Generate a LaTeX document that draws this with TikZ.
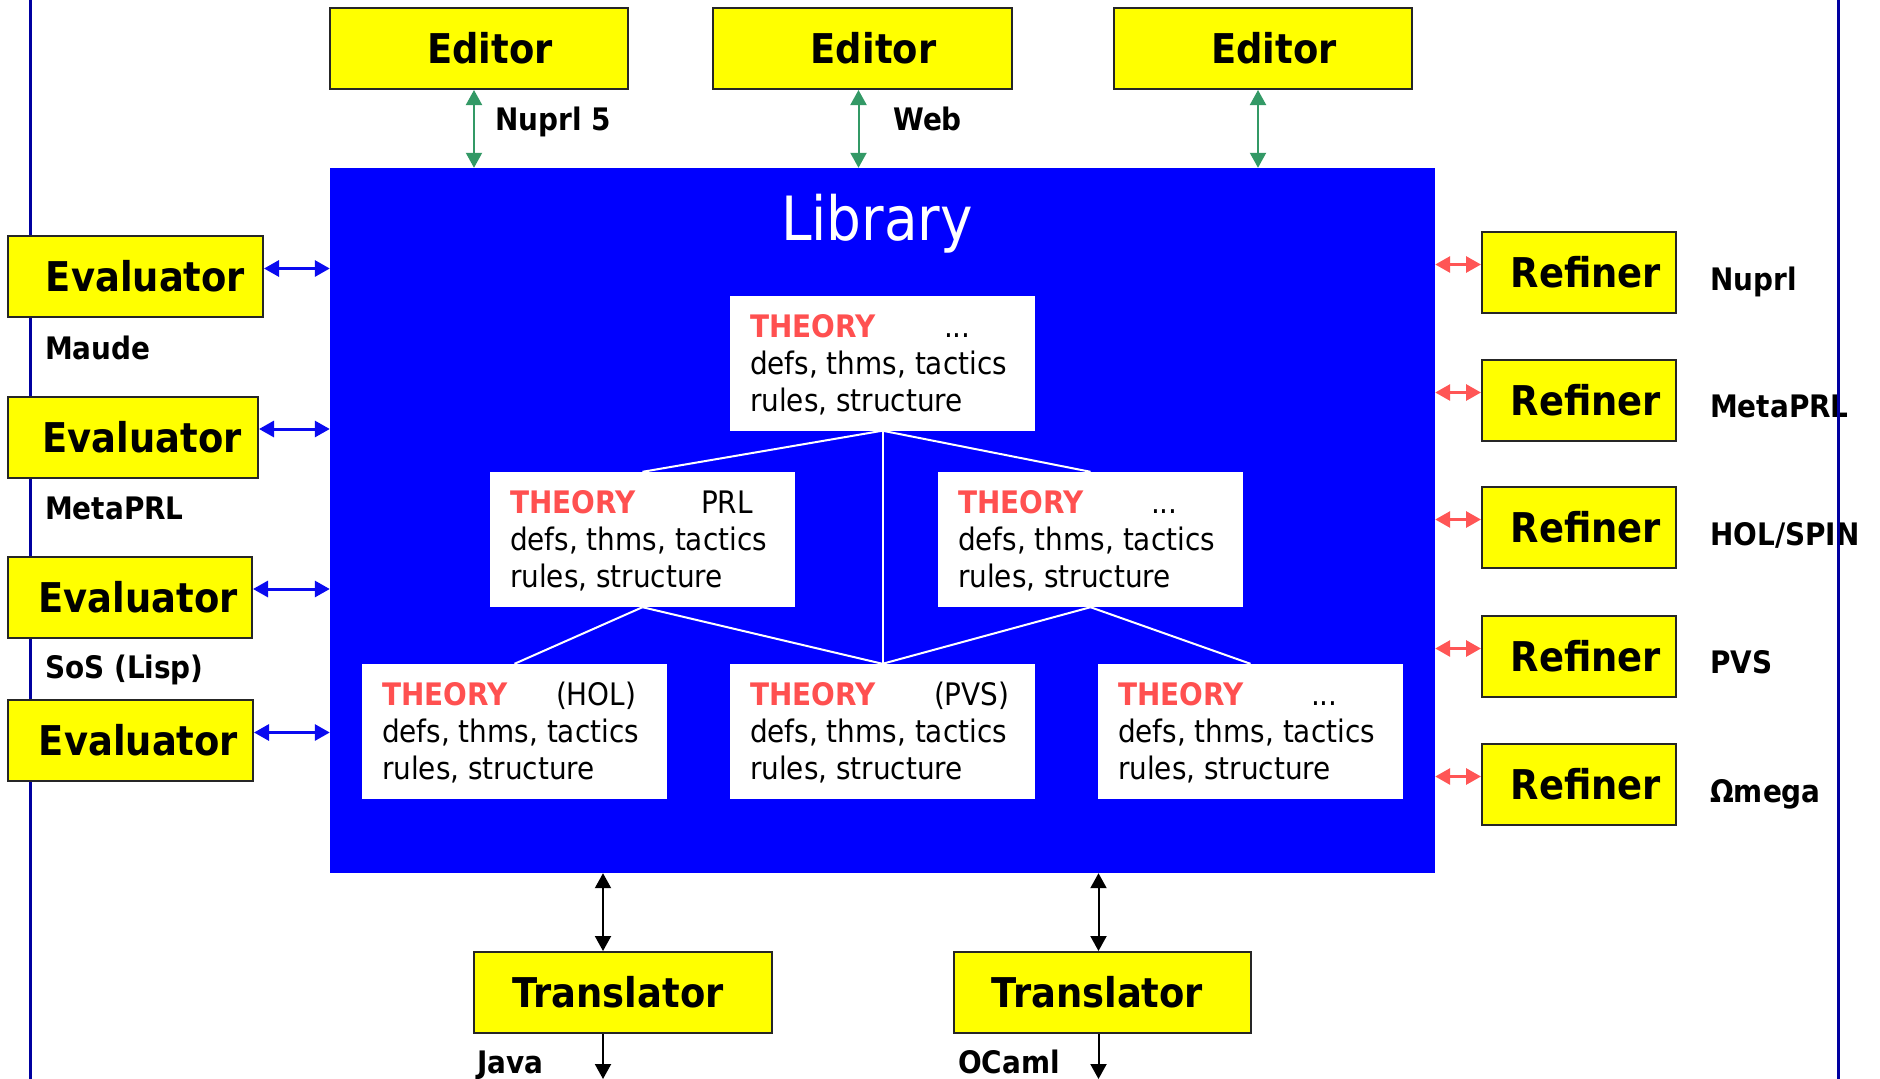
\documentclass[tikz,border=0pt]{standalone}
\usepackage{fontspec}
\setmainfont{DejaVu Sans}[FakeStretch=0.9]
\usetikzlibrary{arrows.meta}
\definecolor{yfill}{HTML}{FFFF00}
\definecolor{libblue}{HTML}{0000FF}
\definecolor{edgeblue}{HTML}{0000A0}
\definecolor{thred}{HTML}{FF5050}
\definecolor{agreen}{HTML}{339966}
\definecolor{ared}{HTML}{FF5555}
\definecolor{ablue}{HTML}{0A0AF0}
\newcommand{\thfont}{\fontsize{31}{36}\selectfont}
\newcommand{\mytheory}[4]{%
  \node[theorybox] (#1) at (#2) {};
  \node[thtext, anchor=base west, text=thred, font=\thfont\bfseries] (#1-h) at ([shift={(20,42)}]#1.north west) {THEORY};
  \node[thtext, anchor=base west] (#1-t) at ([shift={(#4,42)}]#1.north west) {#3};
  \node[thtext, anchor=base west] (#1-a) at ([shift={(20,79)}]#1.north west) {defs, thms, tactics};
  \node[thtext, anchor=base west] (#1-b) at ([shift={(20,116)}]#1.north west) {rules, structure};
}
\begin{document}
\begin{tikzpicture}[x=1pt,y=-1pt,
  yellowbox/.style={draw=black!85, line width=2pt, fill=yfill, inner sep=0pt, minimum height=81pt,
    font=\fontsize{41}{45}\selectfont\bfseries},
  theorybox/.style={fill=white, draw=none, inner sep=0pt, minimum width=305pt, minimum height=135pt},
  thtext/.style={inner sep=0pt, font=\thfont},
  sidelabel/.style={inner sep=0pt, anchor=base west, font=\fontsize{31}{36}\selectfont\bfseries},
  dblarrow/.style={{Triangle[length=15pt,width=16pt]}-{Triangle[length=15pt,width=16pt]}},
  garrow/.style={dblarrow, draw=agreen, fill=agreen, line width=2pt},
  barrow/.style={dblarrow, draw=ablue, fill=ablue, line width=3pt},
  rarrow/.style={dblarrow, draw=ared, fill=ared, line width=3pt},
  karrow/.style={dblarrow, draw=black, fill=black, line width=2pt},
  kone/.style={-{Triangle[length=15pt,width=16pt]}, draw=black, line width=2pt},
  treeline/.style={draw=white, line width=2pt},
  frameline/.style={draw=edgeblue, line width=3pt}]
\useasboundingbox (0,0) rectangle (1880,1079);
\fill[white] (0,0) rectangle (1880,1079);
\coordinate (lt) at (30,0);
\coordinate (lb) at (30,1079);
\draw[frameline] (lt) -- (lb);

% library
\node[fill=libblue, draw=none, inner sep=0pt, minimum width=1105pt, minimum height=705pt] (Lib) at (882.5,520.5) {};
\node[text=white, inner sep=0pt, anchor=base, font=\fontsize{61}{66}\selectfont] (LibT) at (877,240) {Library};

% theories
\mytheory{th1}{882.5,363}{...}{214}
\mytheory{th2}{642.5,539.5}{PRL}{211}
\mytheory{th3}{1090.5,539.5}{...}{213}
\mytheory{th4}{514.5,731.5}{(HOL)}{194}
\mytheory{th5}{882.5,731.5}{(PVS)}{204}
\mytheory{th6}{1250.5,731.5}{...}{213}
\draw[treeline] (th1.south) -- (th2.north);
\draw[treeline] (th1.south) -- (th3.north);
\draw[treeline] (th1.south) -- (th5.north);
\draw[treeline] (th2.south) -- (th4.north);
\draw[treeline] (th2.south) -- (th5.north);
\draw[treeline] (th3.south) -- (th5.north);
\draw[treeline] (th3.south) -- (th6.north);

% editors
\node[yellowbox, minimum width=298pt] (E1) at (479,48.5) {\hspace*{22pt}Editor};
\node[yellowbox, minimum width=299pt] (E2) at (862.5,48.5) {\hspace*{22pt}Editor};
\node[yellowbox, minimum width=298pt] (E3) at (1263,48.5) {\hspace*{22pt}Editor};
\draw[garrow] ([xshift=-5pt]E1.south) -- ([xshift=-5pt]E1.south |- Lib.north);
\draw[garrow] ([xshift=-4pt]E2.south) -- ([xshift=-4pt]E2.south |- Lib.north);
\draw[garrow] ([xshift=-5pt]E3.south) -- ([xshift=-5pt]E3.south |- Lib.north);
\node[sidelabel] (lN5) at (495,130) {Nuprl 5};
\node[sidelabel] (lWeb) at (893,130) {Web};

% evaluators
\node[yellowbox, minimum width=255pt] (Ev1) at (135.5,276.5) {\hspace*{20pt}Evaluator};
\node[yellowbox, minimum width=250pt] (Ev2) at (133,437) {\hspace*{18pt}Evaluator};
\node[yellowbox, minimum width=244pt] (Ev3) at (130,597) {\hspace*{16pt}Evaluator};
\node[yellowbox, minimum width=245pt] (Ev4) at (130.5,740.5) {\hspace*{16pt}Evaluator};
\draw[barrow] ([yshift=8pt]Ev1.east) -- ([yshift=8pt]Ev1.east -| Lib.west);
\draw[barrow] ([yshift=8pt]Ev2.east) -- ([yshift=8pt]Ev2.east -| Lib.west);
\draw[barrow] ([yshift=8pt]Ev3.east) -- ([yshift=8pt]Ev3.east -| Lib.west);
\draw[barrow] ([yshift=8pt]Ev4.east) -- ([yshift=8pt]Ev4.east -| Lib.west);
\node[sidelabel] (lMaude) at (45,359) {Maude};
\node[sidelabel] (lMeta) at (45,519) {MetaPRL};
\node[sidelabel] (lSoS) at (45,678) {SoS (Lisp)};

% refiners
\node[yellowbox, minimum width=194pt] (R1) at (1579,272.5) {\hspace*{14pt}Refiner};
\node[yellowbox, minimum width=194pt] (R2) at (1579,400.5) {\hspace*{14pt}Refiner};
\node[yellowbox, minimum width=194pt] (R3) at (1579,527.5) {\hspace*{14pt}Refiner};
\node[yellowbox, minimum width=194pt] (R4) at (1579,656.5) {\hspace*{14pt}Refiner};
\node[yellowbox, minimum width=194pt] (R5) at (1579,784.5) {\hspace*{14pt}Refiner};
\draw[rarrow] ([yshift=8pt]R1.west) -- ([yshift=8pt]R1.west -| Lib.east);
\draw[rarrow] ([yshift=8pt]R2.west) -- ([yshift=8pt]R2.west -| Lib.east);
\draw[rarrow] ([yshift=8pt]R3.west) -- ([yshift=8pt]R3.west -| Lib.east);
\draw[rarrow] ([yshift=8pt]R4.west) -- ([yshift=8pt]R4.west -| Lib.east);
\draw[rarrow] ([yshift=8pt]R5.west) -- ([yshift=8pt]R5.west -| Lib.east);
\node[sidelabel] (rN) at (1710,290) {Nuprl};
\node[sidelabel] (rM) at (1710,417) {MetaPRL};
\node[sidelabel] (rH) at (1710,545) {HOL/SPIN};
\node[sidelabel] (rP) at (1710,673) {PVS};
\node[sidelabel] (rO) at (1710,802) {Ωmega};

% translators
\node[yellowbox, minimum width=298pt] (T1) at (623,992.5) {Translator\hspace*{10pt}};
\node[yellowbox, minimum width=297pt] (T2) at (1102.5,992.5) {Translator\hspace*{10pt}};
\draw[karrow] ([xshift=-20pt]T1.north) -- ([xshift=-20pt]T1.north |- Lib.south);
\draw[karrow] ([xshift=-4pt]T2.north) -- ([xshift=-4pt]T2.north |- Lib.south);
\coordinate (j1) at (603,1079);
\coordinate (j2) at (1098.5,1079);
\draw[kone] ([xshift=-20pt]T1.south) -- (j1);
\draw[kone] ([xshift=-4pt]T2.south) -- (j2);
\node[sidelabel] (lJava) at (477,1073) {Java};
\node[sidelabel] (lOCaml) at (958,1073) {OCaml};

\coordinate (rt) at (1838,0);
\coordinate (rb) at (1838,1079);
\draw[frameline] (rt) -- (rb);
\end{tikzpicture}
\end{document}
